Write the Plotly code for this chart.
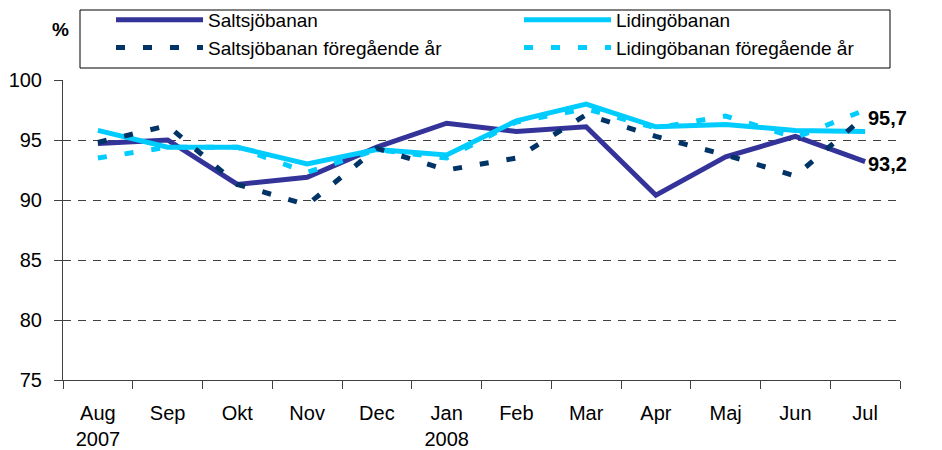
import plotly.graph_objects as go

months = ["Aug", "Sep", "Okt", "Nov", "Dec", "Jan", "Feb", "Mar", "Apr", "Maj", "Jun", "Jul"]
tick_text = ["Aug<br>2007", "Sep", "Okt", "Nov", "Dec", "Jan<br>2008", "Feb", "Mar", "Apr", "Maj", "Jun", "Jul"]

saltsjo = [94.7, 95.0, 91.3, 91.9, 94.4, 96.4, 95.7, 96.1, 90.4, 93.6, 95.3, 93.2]
lidingo = [95.8, 94.4, 94.4, 93.0, 94.2, 93.75, 96.6, 98.0, 96.1, 96.3, 95.8, 95.7]
saltsjo_prev = [94.8, 96.2, 91.3, 89.6, 94.3, 92.5, 93.5, 97.1, 95.3, 93.75, 92.0, 97.0]
lidingo_prev = [93.5, 94.4, 94.4, 92.3, 94.2, 93.5, 96.5, 97.6, 96.0, 97.0, 95.2, 97.5]

y_ticks = [75, 80, 85, 90, 95, 100]

FONT = "Liberation Sans, Arial, sans-serif"
W, H = 942, 450
ML, MR, MT, MB = 63, 42, 80, 70
PW, PH = W - ML - MR, H - MT - MB


def px_x(p):
    return (p - ML) / PW


def px_y(p):
    return (H - MB - p) / PH


fig = go.Figure()
fig.add_trace(go.Scatter(x=months, y=saltsjo, name="Saltsjöbanan", mode="lines",
                         line=dict(color="#333399", width=5)))
fig.add_trace(go.Scatter(x=months, y=lidingo, name="Lidingöbanan", mode="lines",
                         line=dict(color="#00CCFF", width=5)))
fig.add_trace(go.Scatter(x=months, y=saltsjo_prev, name="Saltsjöbanan föregående år", mode="lines",
                         line=dict(color="#003366", width=5, dash="9px,18px")))
fig.add_trace(go.Scatter(x=months, y=lidingo_prev, name="Lidingöbanan föregående år", mode="lines",
                         line=dict(color="#00CCFF", width=5, dash="9px,18px")))


def fmt(v):
    return f"{v:.1f}".replace(".", ",")


fig.add_annotation(x=months[-1], y=lidingo[-1], text=f"<b>{fmt(lidingo[-1])}</b>", showarrow=False,
                   xanchor="left", xshift=1, yshift=14, font=dict(size=20, color="black", family=FONT))
fig.add_annotation(x=months[-1], y=saltsjo[-1], text=f"<b>{fmt(saltsjo[-1])}</b>", showarrow=False,
                   xanchor="left", xshift=1, yshift=-2, font=dict(size=20, color="black", family=FONT))
fig.add_annotation(x=px_x(60), y=px_y(30), xref="paper", yref="paper", text="<b>%</b>", showarrow=False,
                   xanchor="center", yanchor="middle", font=dict(size=19, color="black", family=FONT))

# legend frame
fig.add_shape(type="rect", xref="paper", yref="paper",
              x0=px_x(80), x1=px_x(890), y0=px_y(68), y1=px_y(10),
              line=dict(color="black", width=1), fillcolor="white", layer="below")

fig.update_layout(
    width=W, height=H,
    margin=dict(l=ML, r=MR, t=MT, b=MB, autoexpand=False),
    paper_bgcolor="white", plot_bgcolor="rgba(0,0,0,0)",
    font=dict(family=FONT, size=19, color="black"),
    showlegend=True,
    legend=dict(orientation="h", xref="container", yref="container",
                x=111 / W, y=1.0 - 1 / H, xanchor="left", yanchor="top",
                borderwidth=0, bgcolor="rgba(0,0,0,0)",
                font=dict(size=19, family=FONT), entrywidth=306, itemwidth=87,
                traceorder="normal"),
    xaxis=dict(type="category", categoryorder="array", categoryarray=months,
               tickmode="array", tickvals=months, ticktext=tick_text,
               tickson="boundaries", ticks="outside", ticklen=8, tickcolor="#404040",
               showline=True, linecolor="#404040", linewidth=1, showgrid=False,
               range=[-0.5, 11.5], tickfont=dict(size=20), automargin=False,
               ticklabelstandoff=15),
    yaxis=dict(range=[75, 100], tickmode="array", tickvals=y_ticks,
               ticks="outside", ticklen=8, tickcolor="#404040",
               showline=True, linecolor="#404040", linewidth=1,
               showgrid=True, gridcolor="#404040", gridwidth=1, griddash="8px,7px",
               zeroline=False, tickfont=dict(size=20), automargin=False,
               ticklabelstandoff=8),
)

fig.write_html("out.html", config={"displayModeBar": False},
               post_script="document.body.style.margin='0px';")
